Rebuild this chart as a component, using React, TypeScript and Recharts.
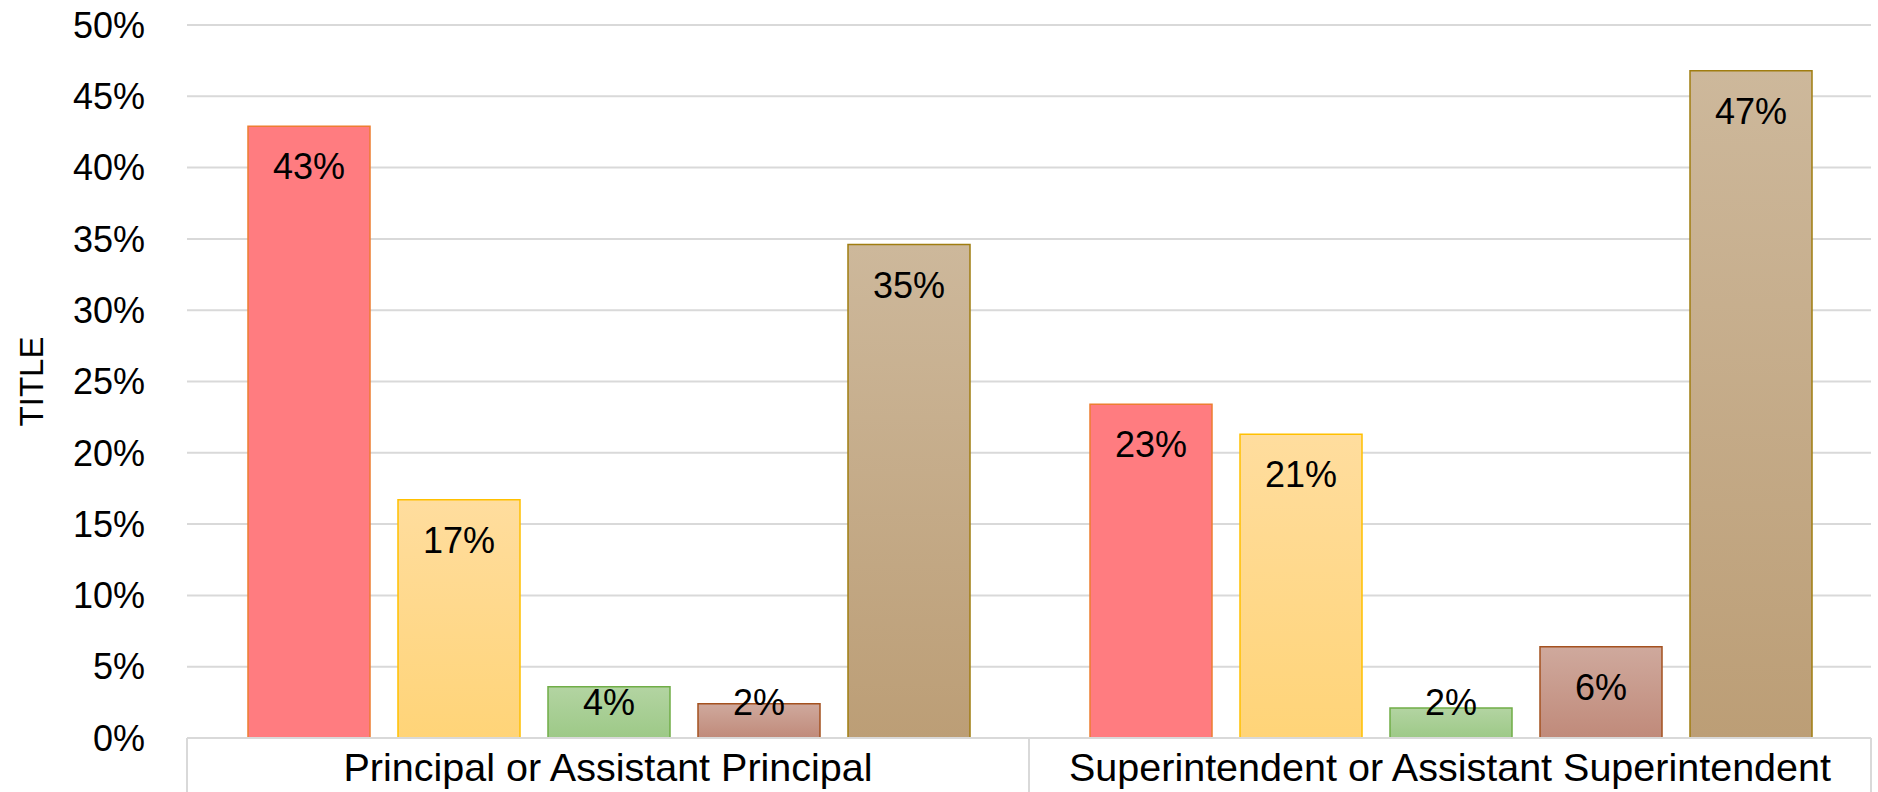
import React from 'react';
import { BarChart, Bar, XAxis, YAxis, CartesianGrid, LabelList } from 'recharts';

const categories = ['Principal or Assistant Principal', 'Superintendent or Assistant Superintendent'];
const seriesA = [42.9, 23.4];
const seriesB = [16.7, 21.3];
const seriesC = [3.6, 2.1];
const seriesD = [2.4, 6.4];
const seriesE = [34.6, 46.8];
const yTicks = [0, 5, 10, 15, 20, 25, 30, 35, 40, 45, 50];
const axisTitle = 'TITLE';

const W = 1878;
const H = 792;
const MARGIN = { top: 25, right: 7, bottom: 0, left: 0 };
const YAXIS_W = 187;
const XAXIS_H = 54;
const PLOT_LEFT = MARGIN.left + YAXIS_W;
const PLOT_RIGHT = W - MARGIN.right;
const PLOT_BOTTOM = H - MARGIN.bottom - XAXIS_H;
const BAND = (PLOT_RIGHT - PLOT_LEFT) / categories.length;
const FONT = "'Liberation Sans', Arial, sans-serif";
const GRID = '#D9D9D9';

const data = categories.map((c, i) => ({
  cat: c,
  a: seriesA[i],
  b: seriesB[i],
  c: seriesC[i],
  d: seriesD[i],
  e: seriesE[i],
}));

const series = [
  { key: 'a', fill: 'url(#gA)', stroke: '#ED7D31', top: '#FF7C80', bottom: '#FF7C80' },
  { key: 'b', fill: 'url(#gB)', stroke: '#FFC000', top: '#FFDD9E', bottom: '#FFD478' },
  { key: 'c', fill: 'url(#gC)', stroke: '#70AD47', top: '#B3D4A2', bottom: '#9DC987' },
  { key: 'd', fill: 'url(#gD)', stroke: '#A4511F', top: '#CFA99D', bottom: '#C08A7A' },
  { key: 'e', fill: 'url(#gE)', stroke: '#A07D10', top: '#CDB89B', bottom: '#BC9E76' },
];

const DataLabel = (props: any) => {
  const { x, y, width, height, value } = props;
  const baseline = Math.min(y + 53, y + height - 23);
  return (
    <text
      x={x + width / 2}
      y={baseline}
      textAnchor="middle"
      fontFamily={FONT}
      fontSize={36}
      fill="#000"
    >
      {Math.round(value) + '%'}
    </text>
  );
};

const XTick = (props: any) => {
  const { x, payload, index } = props;
  const isLast = index === categories.length - 1;
  return (
    <g>
      <line x1={x - BAND / 2} x2={x - BAND / 2} y1={PLOT_BOTTOM} y2={H} stroke={GRID} strokeWidth={2} />
      {isLast && (
        <line x1={x + BAND / 2} x2={x + BAND / 2} y1={PLOT_BOTTOM} y2={H} stroke={GRID} strokeWidth={2} />
      )}
      <text x={x} y={PLOT_BOTTOM + 43} textAnchor="middle" fontFamily={FONT} fontSize={39.5} fill="#000">
        {payload.value}
      </text>
    </g>
  );
};

const YTitle = (props: any) => {
  const vb = props.viewBox || {};
  const cx = (vb.x || 0) + 31;
  const cy = (vb.y || 0) + (vb.height || 0) / 2;
  return (
    <text
      x={cx}
      y={cy}
      transform={`rotate(-90, ${cx}, ${cy})`}
      textAnchor="middle"
      dominantBaseline="central"
      fontFamily={FONT}
      fontSize={33}
      fill="#000"
    >
      {axisTitle}
    </text>
  );
};

export default function App() {
  return (
    <div style={{ position: 'absolute', left: 0, top: 0, width: W, height: H, background: '#fff' }}>
      <BarChart
        width={W}
        height={H}
        data={data}
        margin={MARGIN}
        barCategoryGap={61}
        barGap={28}
      >
        <defs>
          {series.map((s, i) => (
            <linearGradient key={s.key} id={'g' + 'ABCDE'[i]} x1="0" y1="0" x2="0" y2="1">
              <stop offset="0%" stopColor={s.top} />
              <stop offset="100%" stopColor={s.bottom} />
            </linearGradient>
          ))}
        </defs>
        <CartesianGrid vertical={false} stroke={GRID} strokeWidth={2} />
        <XAxis
          dataKey="cat"
          height={XAXIS_H}
          axisLine={{ stroke: GRID, strokeWidth: 2 }}
          tickLine={false}
          tick={<XTick />}
          interval={0}
        />
        <YAxis
          width={YAXIS_W}
          domain={[0, 50]}
          ticks={yTicks}
          axisLine={false}
          tickLine={false}
          tickSize={0}
          tickMargin={42}
          tickFormatter={(v: number) => `${v}%`}
          tick={{ fontFamily: FONT, fontSize: 36, fill: '#000' }}
          label={<YTitle />}
        />
        {series.map((s) => (
          <Bar
            key={s.key}
            dataKey={s.key}
            fill={s.fill}
            stroke={s.stroke}
            strokeWidth={1.5}
            isAnimationActive={false}
          >
            <LabelList dataKey={s.key} content={<DataLabel />} />
          </Bar>
        ))}
      </BarChart>
    </div>
  );
}
